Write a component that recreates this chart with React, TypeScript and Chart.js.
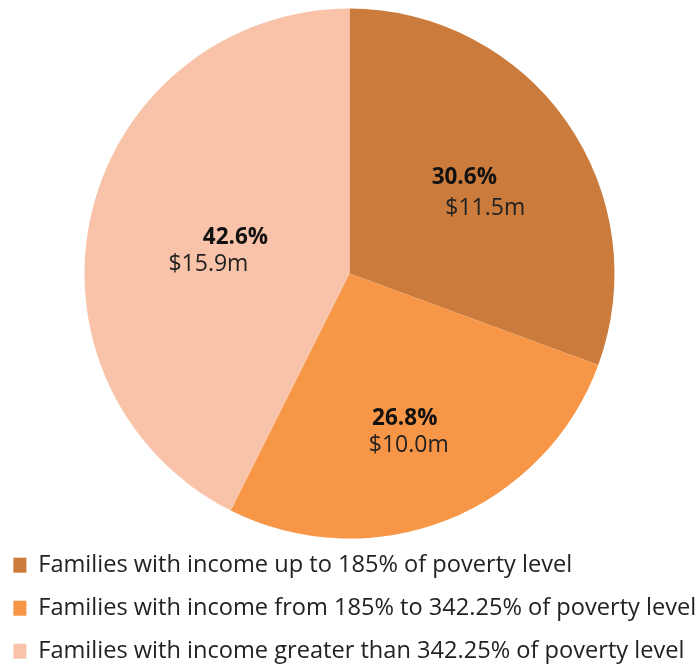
import React, { useEffect, useRef } from "react";
import { Chart, registerables } from "chart.js";

Chart.register(...registerables);

const categories = [
  "Families with income up to 185% of poverty level",
  "Families with income from 185% to 342.25% of poverty level",
  "Families with income greater than 342.25% of poverty level",
];
const shares = [30.6, 26.8, 42.6];
const amounts = ["$11.5m", "$10.0m", "$15.9m"];
const colors = ["#CB7B3B", "#F79646", "#F8C3A8"];

// label layout (style only): fraction of radius along mid-angle and line offsets
const labelFrac = [0.565, 0.628, 0.489];
const pctOffset = [[-8, -10], [-6, -10], [12, -6]];
const amtOffset = [[13, 21], [-2, 17], [-15, 21]];

const FONT = "'Open Sans', sans-serif";

const labelPlugin = {
  id: "sliceLabels",
  afterDatasetsDraw(chart: any) {
    const ctx = chart.ctx;
    const meta = chart.getDatasetMeta(0);
    meta.data.forEach((arc: any, i: number) => {
      const p = arc.getProps(["x", "y", "startAngle", "endAngle", "outerRadius"], true);
      const mid = (p.startAngle + p.endAngle) / 2;
      const ax = p.x + Math.cos(mid) * p.outerRadius * labelFrac[i];
      const ay = p.y + Math.sin(mid) * p.outerRadius * labelFrac[i];
      ctx.save();
      ctx.textAlign = "center";
      ctx.textBaseline = "middle";
      ctx.fillStyle = "#111";
      ctx.font = `bold 22.5px ${FONT}`;
      ctx.fillText(shares[i].toFixed(1) + "%", ax + pctOffset[i][0], ay + pctOffset[i][1]);
      ctx.fillStyle = "#222";
      ctx.font = `23px ${FONT}`;
      ctx.fillText(amounts[i], ax + amtOffset[i][0], ay + amtOffset[i][1]);
      ctx.restore();
    });
  },
};

export default function App() {
  const ref = useRef<HTMLCanvasElement>(null);
  useEffect(() => {
    if (!ref.current) return;
    const chart = new Chart(ref.current, {
      type: "pie",
      data: {
        labels: categories,
        datasets: [
          {
            data: shares,
            backgroundColor: colors,
            borderWidth: 0,
            radius: 265,
            clip: false,
          } as any,
        ],
      },
      options: {
        responsive: false,
        animation: false,
        layout: { padding: { top: 13.2, left: 0, right: 0, bottom: 0 } },
        plugins: {
          tooltip: { enabled: false },
          legend: {
            position: "bottom",
            align: "start",
            labels: {
              boxWidth: 13,
              boxHeight: 15,
              padding: 19.4,
              color: "#222",
              font: { family: FONT, size: 23.6 },
            },
          },
        },
      },
      plugins: [labelPlugin],
    });
    return () => chart.destroy();
  }, []);
  return (
    <div
      style={{
        position: "fixed",
        left: 0,
        top: 0,
        width: 695,
        height: 669,
        overflow: "hidden",
        background: "#fff",
      }}
    >
      <canvas
        ref={ref}
        width={711}
        height={673}
        style={{ position: "absolute", left: -6, top: 0, width: 711, height: 673 }}
      />
    </div>
  );
}
